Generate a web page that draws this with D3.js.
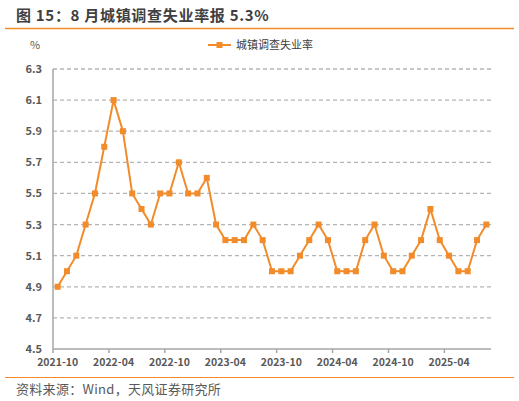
<!DOCTYPE html>
<html>
<head>
<meta charset="utf-8">
<script src="https://cdn.jsdelivr.net/npm/d3@7"></script>
<style>
  body { margin: 0; background: #fff; }
  svg { font-family: "Noto Sans CJK SC", "Liberation Sans", sans-serif; }
</style>
</head>
<body>
<svg id="chart" width="519" height="401"></svg>
<script>
// monthly data, 2021-10 .. 2025-08
const startMonth = [2021, 10];
const rate = [4.9, 5.0, 5.1, 5.3, 5.5, 5.8, 6.1, 5.9, 5.5, 5.4, 5.3, 5.5,
  5.5, 5.7, 5.5, 5.5, 5.6, 5.3, 5.2, 5.2, 5.2, 5.3, 5.2, 5.0,
  5.0, 5.0, 5.1, 5.2, 5.3, 5.2, 5.0, 5.0, 5.0, 5.2, 5.3, 5.1,
  5.0, 5.0, 5.1, 5.2, 5.4, 5.2, 5.1, 5.0, 5.0, 5.2, 5.3];
const yTicks = [4.5, 4.7, 4.9, 5.1, 5.3, 5.5, 5.7, 5.9, 6.1, 6.3];
const seriesName = "城镇调查失业率";

// build month labels
const months = rate.map((v, i) => {
  let m = startMonth[1] - 1 + i;
  let y = startMonth[0] + Math.floor(m / 12);
  m = m % 12 + 1;
  return y + "-" + (m < 10 ? "0" + m : m);
});

const orange = "#F28B2A";
const svg = d3.select("#chart");
const margin = {left: 53, right: 491, top: 69, bottom: 349};

// title
svg.append("text")
  .attr("x", 16).attr("y", 21)
  .style("font-size", "15px").style("font-weight", "bold")
  .style("letter-spacing", "0.7px")
  .style("fill", "#404040")
  .text("图 15：8 月城镇调查失业率报 5.3%");
svg.append("line")
  .attr("x1", 5).attr("x2", 514).attr("y1", 28.5).attr("y2", 28.5)
  .style("stroke", orange).style("stroke-width", 1.5);

// scales
const x = d3.scaleBand()
  .domain(months)
  .range([margin.left, margin.right]);
const y = d3.scaleLinear()
  .domain([4.5, 6.3])
  .range([margin.bottom, margin.top]);

// grid
svg.append("g").selectAll("line")
  .data(yTicks.slice(1))
  .enter().append("line")
  .attr("x1", margin.left).attr("x2", margin.right)
  .attr("y1", d => y(d)).attr("y2", d => y(d))
  .style("stroke", "#B4B4B4").style("stroke-width", 1.3)
  .style("stroke-dasharray", "4,3");

// y labels
svg.append("g").selectAll("text")
  .data(yTicks)
  .enter().append("text")
  .attr("x", 42).attr("y", d => y(d) + 4)
  .attr("text-anchor", "end")
  .style("font-size", "11px").style("font-weight", "bold")
  .style("fill", "#595959")
  .text(d => d.toFixed(1));

svg.append("text")
  .attr("x", 35).attr("y", 49)
  .attr("text-anchor", "middle")
  .style("font-size", "11px").style("fill", "#595959")
  .text("%");

// axes lines
svg.append("line")
  .attr("x1", margin.left).attr("x2", margin.left)
  .attr("y1", margin.top).attr("y2", margin.bottom)
  .style("stroke", "#A6A6A6").style("stroke-width", 1.5);
svg.append("line")
  .attr("x1", margin.left).attr("x2", margin.right)
  .attr("y1", margin.bottom).attr("y2", margin.bottom)
  .style("stroke", "#A6A6A6").style("stroke-width", 1.5);

// ticks every 6 months at band edges
const tickMonths = months.filter((m, i) => i % 6 === 0);
svg.append("g").selectAll("line")
  .data(tickMonths)
  .enter().append("line")
  .attr("x1", d => x(d)).attr("x2", d => x(d))
  .attr("y1", margin.bottom).attr("y2", margin.bottom + 4)
  .style("stroke", "#A6A6A6").style("stroke-width", 1.5);

svg.append("g").selectAll("text")
  .data(tickMonths)
  .enter().append("text")
  .attr("x", d => x(d) + x.bandwidth() / 2)
  .attr("y", margin.bottom + 17)
  .attr("text-anchor", "middle")
  .style("font-size", "10.5px").style("font-weight", "bold")
  .style("fill", "#595959")
  .text(d => d);

// line + markers
const cx = d => x(d) + x.bandwidth() / 2;
const line = d3.line()
  .x((d, i) => cx(months[i]))
  .y(d => y(d));
svg.append("path")
  .datum(rate)
  .attr("d", line)
  .style("fill", "none").style("stroke", orange).style("stroke-width", 2);

svg.append("g").selectAll("rect")
  .data(rate)
  .enter().append("rect")
  .attr("x", (d, i) => cx(months[i]) - 3)
  .attr("y", d => y(d) - 3)
  .attr("width", 6).attr("height", 6)
  .style("fill", orange);

// legend
svg.append("line")
  .attr("x1", 208).attr("x2", 231).attr("y1", 45).attr("y2", 45)
  .style("stroke", orange).style("stroke-width", 2);
svg.append("rect")
  .attr("x", 216.5).attr("y", 42).attr("width", 6).attr("height", 6)
  .style("fill", orange);
svg.append("text")
  .attr("x", 236).attr("y", 49)
  .style("font-size", "11px").style("fill", "#404040")
  .text(seriesName);

// source
svg.append("line")
  .attr("x1", 5).attr("x2", 514).attr("y1", 377.5).attr("y2", 377.5)
  .style("stroke", orange).style("stroke-width", 1);
svg.append("text")
  .attr("x", 16).attr("y", 394)
  .style("font-size", "13px").style("fill", "#595959")
  .style("letter-spacing", "0.3px")
  .text("资料来源：Wind，天风证券研究所");
</script>
</body>
</html>
